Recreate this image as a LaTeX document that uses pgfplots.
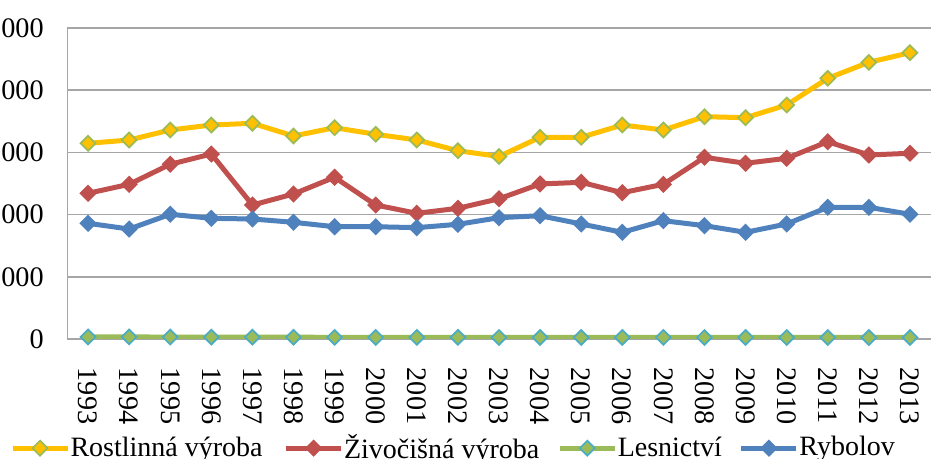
\documentclass[border=0pt]{standalone}
\usepackage{pgfplots}
\pgfplotsset{compat=1.18}
\usepackage{fontspec}
\setmainfont{Liberation Serif}
\definecolor{cyel}{HTML}{FFC000}
\definecolor{cred}{HTML}{C0504D}
\definecolor{cgreen}{HTML}{9BBB59}
\definecolor{cblue}{HTML}{4F81BD}
\definecolor{ccyan}{HTML}{4BACC6}
\definecolor{gridgray}{HTML}{A6A6A6}
\begin{document}
\begin{tikzpicture}
\path[use as bounding box] (0,0) rectangle (372.4pt,183.6pt);
\clip (0,0) rectangle (372.4pt,183.6pt);
\begin{axis}[
  at={(27pt,48pt)}, anchor=south west,
  scale only axis, width=345.2pt, height=124.4pt,
  xmin=1992.5, xmax=2013.5, ymin=0, ymax=50000,
  xtick={1993,...,2013}, ytick={0,10000,...,50000},
  axis x line=bottom, axis y line=left,
  axis line style={-, draw=gridgray, line width=0.6pt},
  ymajorgrids, grid style={gridgray, line width=0.6pt},
  major tick length=0pt,
  scaled ticks=false,
  tick label style={font=\fontsize{11.3}{13}\selectfont},
  /pgf/number format/assume math mode=true,
  /pgf/number format/1000 sep={},
  yticklabel style={xshift=-6pt},
  xticklabel style={yshift=-8pt, rotate=-90, anchor=west},
  legend columns=4,
  legend style={at={(-0.0666,-0.351)}, anchor=west, draw=none, fill=none,
    inner sep=0pt, outer sep=0pt,
    font=\fontsize{11.2}{13}\selectfont,
    nodes={inner xsep=0pt},
    /tikz/column 1/.style={column sep=0.2pt},
    /tikz/column 2/.style={column sep=8.4pt},
    /tikz/column 3/.style={column sep=0.2pt},
    /tikz/column 4/.style={column sep=7.2pt},
    /tikz/column 5/.style={column sep=0.2pt},
    /tikz/column 6/.style={column sep=6.8pt},
    /tikz/column 7/.style={column sep=0.2pt}},
  legend image code/.code={\draw[mark repeat=2,mark phase=2,#1] plot coordinates {(0pt,0pt) (11pt,0pt) (22pt,0pt)};},
  every axis plot/.append style={line width=2pt, mark=square*, mark size=2.1pt},
]
\addplot[cyel, mark options={rotate=45, fill=cyel, draw=cgreen, line width=0.7pt}] coordinates {
(1993,31460) (1994,31990) (1995,33600) (1996,34400) (1997,34680) (1998,32640) (1999,33970)
(2000,32910) (2001,32000) (2002,30270) (2003,29340) (2004,32430) (2005,32430) (2006,34400)
(2007,33600) (2008,35740) (2009,35580) (2010,37620) (2011,41910) (2012,44480) (2013,46030)};
\addlegendentry{Rostlinná výroba}
\addplot[cred, mark options={rotate=45, fill=cred, draw=cred, line width=0.7pt}] coordinates {
(1993,23420) (1994,24870) (1995,28090) (1996,29740) (1997,21540) (1998,23310) (1999,26000)
(2000,21540) (2001,20210) (2002,21010) (2003,22540) (2004,24920) (2005,25190) (2006,23520)
(2007,24870) (2008,29210) (2009,28250) (2010,29050) (2011,31720) (2012,29580) (2013,29860)};
\addlegendentry{Živočišná výroba}
\addplot[cgreen, mark options={rotate=45, fill=cgreen, draw=ccyan, line width=0.7pt}] coordinates {
(1993,330) (1994,330) (1995,310) (1996,300) (1997,300) (1998,290) (1999,270)
(2000,250) (2001,260) (2002,270) (2003,250) (2004,250) (2005,250) (2006,250)
(2007,250) (2008,250) (2009,250) (2010,240) (2011,240) (2012,240) (2013,240)};
\addlegendentry{Lesnictví}
\addplot[cblue, mark options={rotate=45, fill=cblue, draw=cblue, line width=0.7pt}] coordinates {
(1993,18600) (1994,17680) (1995,20050) (1996,19400) (1997,19290) (1998,18760) (1999,18050)
(2000,18050) (2001,17900) (2002,18440) (2003,19500) (2004,19820) (2005,18490) (2006,17150)
(2007,19020) (2008,18220) (2009,17150) (2010,18490) (2011,21170) (2012,21170) (2013,20050)};
\addlegendentry{Rybolov}
\end{axis}
\end{tikzpicture}
\end{document}
